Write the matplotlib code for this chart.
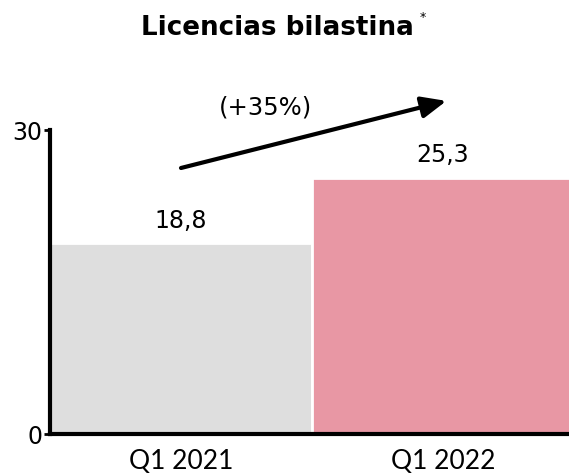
import matplotlib.pyplot as plt

categories = ["Q1 2021", "Q1 2022"]
values = [18.8, 25.3]
value_labels = ["18,8", "25,3"]
bar_colors = ["#dedede", "#e897a4"]
growth_label = "(+35%)"

fig = plt.figure(figsize=(5.69, 4.73), dpi=100)
ax = fig.add_axes([50 / 569, 39 / 473, 524 / 569, 304 / 473])

x = range(len(categories))
ax.bar(x, values, width=1.0, color=bar_colors, edgecolor="white", linewidth=2)

ax.set_xlim(-0.5, 1.5)
ax.set_ylim(0, 30)
ax.set_yticks([0, 30])
ax.set_yticklabels(["0", "30"], fontsize=17, family="DejaVu Sans")
ax.set_xticks(list(x))
ax.set_xticklabels(categories, fontsize=19, family="Lato")
ax.tick_params(axis="x", length=0, pad=11)
ax.tick_params(axis="y", length=4, width=2, pad=1.5)

for s in ["top", "right"]:
    ax.spines[s].set_visible(False)
ax.spines["left"].set_linewidth(3)
ax.spines["bottom"].set_linewidth(3)

for i, v in enumerate(values):
    ax.text(i, v + 1.5, value_labels[i], ha="center", va="baseline", fontsize=17,
            family="DejaVu Sans")

ax.annotate("", xy=(1.013, 32.87), xytext=(0.0, 26.25), xycoords="data",
            annotation_clip=False,
            arrowprops=dict(arrowstyle="-|>,head_length=1.5,head_width=0.65",
                            lw=3, color="black", shrinkA=0, shrinkB=0))
ax.text(0.3225, 32.2, growth_label, ha="center", va="center", fontsize=17.5,
        family="DejaVu Sans")

fig.text(277.5 / 569, 1 - 35 / 473, "Licencias bilastina", ha="center",
         va="baseline", fontsize=18.8, fontweight="bold", family="DejaVu Sans")
fig.text(423 / 569, 1 - 17 / 473, "*", ha="center", va="center", fontsize=9,
         family="DejaVu Sans")

fig.savefig("out.png", dpi=100)
